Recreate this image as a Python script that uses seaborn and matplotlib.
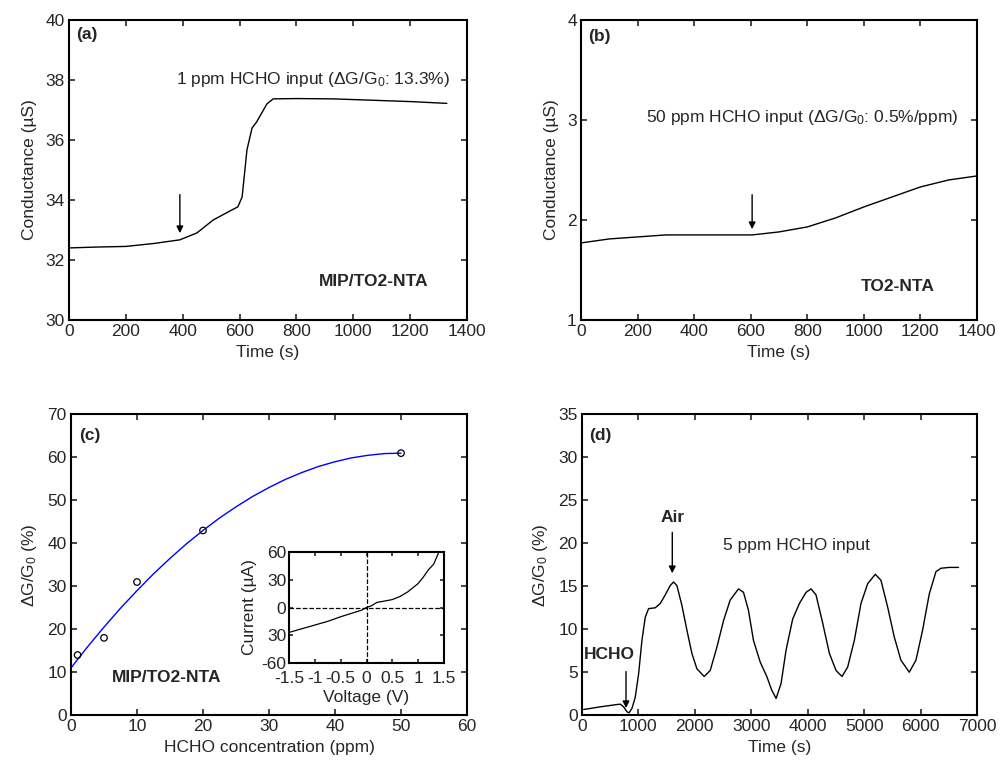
import matplotlib
matplotlib.use("Agg")
import matplotlib.pyplot as plt
import seaborn as sns

# panel (a): MIP/TO2-NTA, 1 ppm HCHO
a_time = [0, 100, 200, 300, 390, 450, 507, 550, 594, 609, 626, 644, 660, 672, 696, 718, 800, 929, 1050, 1200, 1329]
a_cond = [32.4, 32.43, 32.45, 32.55, 32.67, 32.9, 33.33, 33.55, 33.77, 34.1, 35.67, 36.4, 36.6, 36.8, 37.2, 37.37, 37.38, 37.37, 37.33, 37.28, 37.22]

# panel (b): TO2-NTA, 50 ppm HCHO
b_time = [0, 100, 200, 300, 400, 500, 605, 700, 800, 900, 1000, 1100, 1200, 1300, 1400]
b_cond = [1.77, 1.81, 1.83, 1.85, 1.85, 1.85, 1.85, 1.88, 1.93, 2.02, 2.13, 2.23, 2.33, 2.40, 2.44]

# panel (c): calibration points and fit
c_conc = [1, 5, 10, 20, 50]
c_resp = [14, 18, 31, 43, 61]
fit_conc = [0, 2.5, 5, 7.5, 10, 12.5, 15, 17.5, 20, 22.5, 25, 27.5, 30, 32.5, 35, 37.5, 40, 42.5, 45, 47.5, 50]
fit_resp = [11, 15.9, 20.5, 24.9, 29, 32.9, 36.5, 39.9, 43, 45.9, 48.5, 50.9, 53, 54.9, 56.5, 57.9, 59, 59.9, 60.5, 60.9, 61]

# inset: I-V curve
iv_volt = [-1.5, -1.25, -1.0, -0.75, -0.5, -0.3, -0.1, 0.0, 0.1, 0.2, 0.35, 0.5, 0.65, 0.8, 1.0, 1.1, 1.2, 1.3, 1.4]
iv_curr = [-27, -23, -19, -15, -10, -6.5, -3, 0, 2, 5.5, 7, 8.6, 12, 17, 26, 33, 41, 47, 60]

# panel (d): 5 ppm HCHO / air cycles
d_time = [30, 325, 620, 680, 737, 797, 832, 885, 944, 1003, 1062, 1121, 1180, 1298, 1387, 1475, 1564, 1622, 1681,
          1770, 1859, 1947, 2036, 2165, 2272, 2390, 2508, 2626, 2773, 2862, 2950, 3039, 3157, 3275, 3363, 3440,
          3528, 3617, 3734, 3853, 3971, 4059, 4147, 4266, 4384, 4502, 4608, 4708, 4826, 4944, 5062, 5198, 5298,
          5416, 5534, 5652, 5800, 5918, 6036, 6154, 6272, 6360, 6508, 6673]
d_resp = [0.66, 0.97, 1.24, 1.28, 0.97, 0.39, 0.27, 0.78, 2.1, 4.8, 8.7, 11.4, 12.4, 12.5, 13.0, 14.0, 15.1, 15.5, 15.1,
          12.8, 9.9, 7.2, 5.4, 4.5, 5.2, 7.9, 11.0, 13.4, 14.7, 14.3, 12.2, 8.7, 6.2, 4.5, 2.9, 1.95,
          3.7, 7.6, 11.2, 13.0, 14.3, 14.7, 14.0, 10.7, 7.2, 5.2, 4.5, 5.6, 8.7, 13.0, 15.3, 16.4, 15.7,
          12.6, 9.1, 6.4, 5.0, 6.4, 9.9, 14.1, 16.7, 17.1, 17.2, 17.2]

sns.set_style("ticks")
plt.rcParams['font.family'] = ['Liberation Sans', 'DejaVu Sans']
plt.rcParams['mathtext.fontset'] = 'custom'
plt.rcParams['mathtext.rm'] = 'Liberation Sans'
plt.rcParams['mathtext.it'] = 'Liberation Sans:italic'
FS = 12.5
plt.rcParams['font.size'] = FS

fig = plt.figure(figsize=(10, 7.69), dpi=100)
ax_a = fig.add_axes([0.069, 0.584, 0.398, 0.390])
ax_b = fig.add_axes([0.581, 0.584, 0.396, 0.390])
ax_c = fig.add_axes([0.071, 0.070, 0.396, 0.391])
ax_d = fig.add_axes([0.582, 0.070, 0.395, 0.391])
ax_in = fig.add_axes([0.289, 0.138, 0.155, 0.144])


def style(ax):
    ax.tick_params(direction='in', top=True, right=True, length=4, width=1.2, labelsize=FS, pad=3)
    for s in ax.spines.values():
        s.set_visible(True)
        s.set_linewidth(1.5)
        s.set_color('black')


def arrow(ax, x, y0, y1):
    ax.annotate('', xy=(x, y1), xytext=(x, y0),
                arrowprops=dict(arrowstyle='-|>', color='black', lw=1, mutation_scale=10))


# (a)
sns.lineplot(x=a_time, y=a_cond, ax=ax_a, color='black', lw=1)
ax_a.set_xlim(0, 1400)
ax_a.set_ylim(30, 40)
ax_a.set_xticks(range(0, 1401, 200))
ax_a.set_yticks(range(30, 41, 2))
ax_a.set_xlabel('Time (s)', fontsize=FS)
ax_a.set_ylabel('Conductance (µS)', fontsize=FS, labelpad=6)
ax_a.text(25, 39.5, '(a)', fontweight='bold', va='center')
ax_a.text(1340, 38.0, '1 ppm HCHO input (ΔG/G$_0$: 13.3%)', ha='right', va='center')
ax_a.text(1263, 31.27, 'MIP/TO2-NTA', ha='right', va='center', fontweight='bold')
arrow(ax_a, 390, 34.27, 32.8)
style(ax_a)

# (b)
sns.lineplot(x=b_time, y=b_cond, ax=ax_b, color='black', lw=1)
ax_b.set_xlim(0, 1400)
ax_b.set_ylim(1, 4)
ax_b.set_xticks(range(0, 1401, 200))
ax_b.set_yticks([1, 2, 3, 4])
ax_b.set_xlabel('Time (s)', fontsize=FS)
ax_b.set_ylabel('Conductance (µS)', fontsize=FS, labelpad=6)
ax_b.text(25, 3.83, '(b)', fontweight='bold', va='center')
ax_b.text(1333, 3.02, '50 ppm HCHO input (ΔG/G$_0$: 0.5%/ppm)', ha='right', va='center')
ax_b.text(1250, 1.33, 'TO2-NTA', ha='right', va='center', fontweight='bold')
arrow(ax_b, 605, 2.28, 1.88)
style(ax_b)

# (c)
sns.lineplot(x=fit_conc, y=fit_resp, ax=ax_c, color='#0000ff', lw=1)
sns.scatterplot(x=c_conc, y=c_resp, ax=ax_c, marker='o', s=22, facecolor='none', edgecolor='black', linewidth=0.9, zorder=3)
ax_c.set_xlim(0, 60)
ax_c.set_ylim(0, 70)
ax_c.set_xticks(range(0, 61, 10))
ax_c.set_yticks(range(0, 71, 10))
ax_c.set_xlabel('HCHO concentration (ppm)', fontsize=FS)
ax_c.set_ylabel('ΔG/G$_0$ (%)', fontsize=FS, labelpad=6)
ax_c.text(1.3, 65, '(c)', fontweight='bold', va='center')
ax_c.text(6.2, 8.8, 'MIP/TO2-NTA', ha='left', va='center', fontweight='bold')
style(ax_c)

# inset
sns.lineplot(x=iv_volt, y=iv_curr, ax=ax_in, color='black', lw=0.9)
ax_in.axhline(0, color='black', ls='--', lw=0.9)
ax_in.axvline(0, color='black', ls='--', lw=0.9)
ax_in.set_xlim(-1.5, 1.5)
ax_in.set_ylim(-60, 60)
ax_in.set_xticks([-1.5, -1, -0.5, 0, 0.5, 1, 1.5])
ax_in.set_xticklabels(['-1.5', '-1', '-0.5', '0', '0.5', '1', '1.5'])
ax_in.set_yticks([-60, -30, 0, 30, 60])
ax_in.set_yticklabels(['-60', '30', '0', '30', '60'])
ax_in.set_xlabel('Voltage (V)', fontsize=FS, labelpad=3)
ax_in.set_ylabel('Current (µA)', fontsize=FS, labelpad=3)
style(ax_in)
ax_in.tick_params(length=3)
ax_in.tick_params(axis='x', pad=6)
ax_in.tick_params(axis='y', pad=2)

# (d)
sns.lineplot(x=d_time, y=d_resp, ax=ax_d, color='black', lw=1)
ax_d.set_xlim(0, 7000)
ax_d.set_ylim(0, 35)
ax_d.set_xticks(range(0, 7001, 1000))
ax_d.set_yticks(range(0, 36, 5))
ax_d.set_xlabel('Time (s)', fontsize=FS)
ax_d.set_ylabel('ΔG/G$_0$ (%)', fontsize=FS, labelpad=6)
ax_d.text(130, 32.5, '(d)', fontweight='bold', va='center')
ax_d.text(1610, 23, 'Air', fontweight='bold', ha='center', va='center')
arrow(ax_d, 1600, 21.6, 16.2)
ax_d.text(40, 7.1, 'HCHO', fontweight='bold', ha='left', va='center')
arrow(ax_d, 780, 5.4, 0.5)
ax_d.text(2500, 19.8, '5 ppm HCHO input', ha='left', va='center')
style(ax_d)

fig.savefig('out.png', dpi=100)
